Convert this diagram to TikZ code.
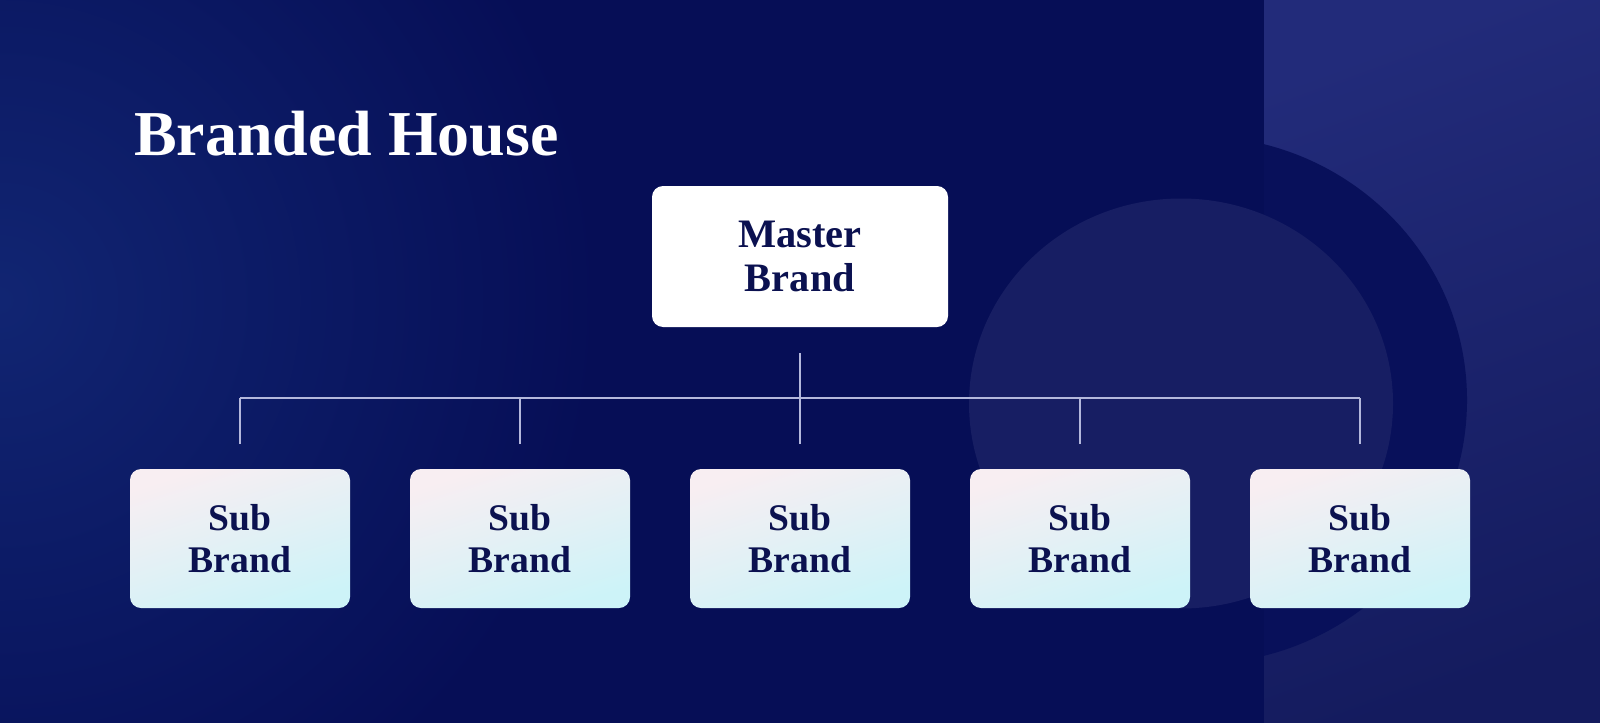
\documentclass[tikz,border=0pt]{standalone}
\usepackage{fontspec}
\setmainfont{Liberation Serif}
\usetikzlibrary{positioning}
\definecolor{navy}{HTML}{060E56}
\definecolor{glow}{HTML}{112572}
\definecolor{panelTop}{HTML}{222B7A}
\definecolor{panelBot}{HTML}{141B5E}
\definecolor{ringDark}{HTML}{08105A}
\definecolor{discLight}{HTML}{171E63}
\definecolor{ink}{HTML}{0B1150}
\definecolor{linkGrey}{HTML}{B4B8DC}
\definecolor{subPink}{HTML}{F8EEF2}
\definecolor{subCyan}{HTML}{CDF3F8}
\begin{document}
\begin{tikzpicture}[semithick,
  masterbox/.style={fill=white,rounded corners=0.11cm,minimum width=2.96cm,minimum height=1.41cm,
    align=center,text=ink,font=\fontsize{11.5}{12.6}\selectfont\bfseries},
  subbox/.style={top color=subPink,bottom color=subCyan,shading angle=18,rounded corners=0.11cm,
    minimum width=2.20cm,minimum height=1.39cm,align=center,text=ink,font=\fontsize{10.7}{11.8}\selectfont\bfseries},
  link/.style={draw=linkGrey,line width=0.5pt}]

\useasboundingbox (0,0) rectangle (16,-7.22);

%background
\fill[navy] (-0.1,0.1) rectangle (16.1,-7.32);
\shade[inner color=glow,outer color=navy] (0,-3.0) circle (6);
\shade[top color=panelTop,bottom color=panelBot,shading angle=20] (12.64,0.1) rectangle (16.1,-7.32);
\begin{scope}
\clip (12.64,0.1) rectangle (16.1,-7.32);
\fill[ringDark] (11.97,-4.00) ellipse (2.70 and 2.64);
\end{scope}
\fill[discLight] (11.81,-4.035) ellipse (2.12 and 2.05);

%title
\node[anchor=base west,text=white,font=\fontsize{18.2}{20}\selectfont\bfseries,inner sep=0pt] (title) at (1.33,-1.55) {Branded House};

%master
\node[masterbox] (master) at (8.00,-2.565) {Master\\Brand};

%subs
\foreach \i/\x in {1/2.40,2/5.20,3/8.00,4/10.80,5/13.60}
  \node[subbox] (sub\i) at (\x,-5.385) {Sub\\Brand};

\coordinate (bar) at (8.00,-3.98);
\draw[link,shorten <=0.25cm] (master.south) -- (bar);
\draw[link] (bar -| sub1) -- (bar -| sub5);
\foreach \i in {1,...,5}
  \draw[link,shorten >=0.24cm] (bar -| sub\i) -- (sub\i.north);

\end{tikzpicture}
\end{document}
